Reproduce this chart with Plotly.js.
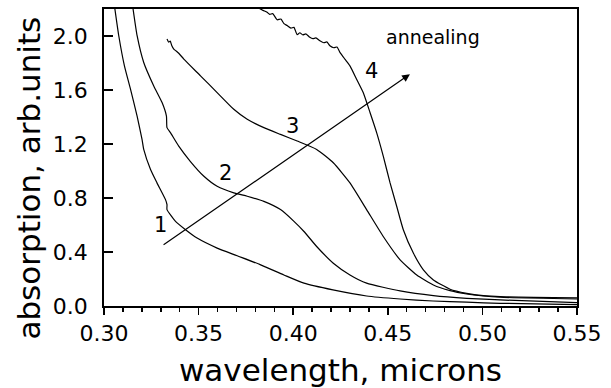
<!DOCTYPE html>
<html>
<head>
<meta charset="utf-8">
<script src="https://cdn.plot.ly/plotly-3.0.1.min.js"></script>
<style>html,body{margin:0;padding:0;background:#fff;}</style>
</head>
<body>
<div id="chart" style="width:611px;height:388px;"></div>
<script>
// Curve 1
const x1 = [0.3057,0.3078,0.3108,0.3140,0.3175,0.3201,0.3210,0.3246,0.3280,0.3325,0.3333,0.3333,0.3378,0.3431,0.3492,0.3598,0.3704,0.3828,0.3951,0.4057,0.4210,0.4388,0.4565,0.4739,0.4917,0.5094,0.55];
const y1 = [2.206,2.002,1.779,1.606,1.407,1.234,1.160,1.011,0.912,0.788,0.751,0.714,0.627,0.565,0.503,0.429,0.372,0.305,0.230,0.169,0.119,0.074,0.052,0.037,0.028,0.020,0.010];
// Curve 2
const x2 = [0.3153,0.3175,0.3210,0.3263,0.3307,0.3330,0.3333,0.3351,0.3395,0.3457,0.3528,0.3598,0.3686,0.3757,0.3845,0.3933,0.4004,0.4057,0.4124,0.4212,0.4300,0.4388,0.4565,0.4741,0.4917,0.5094,0.55];
const y2 = [2.206,2.002,1.804,1.630,1.507,1.407,1.321,1.284,1.184,1.070,0.961,0.887,0.838,0.813,0.775,0.714,0.627,0.552,0.441,0.317,0.230,0.169,0.112,0.077,0.057,0.045,0.025];
// Curve 3
const x3 = [0.3333,0.3342,0.3350,0.3358,0.3369,0.3380,0.3395,0.3422,0.3510,0.3598,0.3686,0.3757,0.3845,0.3933,0.4021,0.4124,0.4212,0.4300,0.4388,0.4476,0.4565,0.4653,0.4741,0.4829,0.4917,0.5005,0.5094,0.55];
const y3 = [1.978,1.955,1.962,1.930,1.903,1.890,1.872,1.829,1.705,1.581,1.457,1.383,1.321,1.271,1.222,1.160,1.061,0.912,0.714,0.515,0.342,0.230,0.156,0.114,0.089,0.074,0.065,0.052];
// Curve 4
const x4 = [0.3819,0.3840,0.3862,0.3876,0.3892,0.3915,0.3935,0.3951,0.3968,0.3988,0.4004,0.4021,0.4035,0.4051,0.4067,0.4088,0.4104,0.4120,0.4141,0.4162,0.4178,0.4194,0.4215,0.4231,0.4247,0.4273,0.4300,0.4335,0.4370,0.4406,0.4441,0.4476,0.4512,0.4547,0.4582,0.4635,0.4688,0.4741,0.4829,0.4917,0.5005,0.5094,0.55];
const y4 = [2.206,2.190,2.176,2.160,2.166,2.120,2.126,2.092,2.077,2.058,2.064,2.010,2.024,2.008,2.016,1.990,1.980,1.986,1.965,1.950,1.956,1.928,1.913,1.918,1.879,1.829,1.779,1.680,1.581,1.433,1.284,1.110,0.912,0.739,0.565,0.392,0.268,0.193,0.124,0.094,0.077,0.069,0.060];

const curveLabels = ['1','2','3','4'];
const labelX = [0.3296,0.3642,0.3995,0.4415];
const labelY = [0.602,0.987,1.333,1.742];
const arrowTail = [0.3307,0.446];
const arrowTip = [0.4617,1.717];
const noteText = 'annealing';
const noteXY = [0.4741,1.990];

const xTicks = [0.30,0.35,0.40,0.45,0.50,0.55];
const yTicks = [0.0,0.4,0.8,1.2,1.6,2.0];

const traces = [[x1,y1],[x2,y2],[x3,y3],[x4,y4]].map(([x,y]) => ({
  x:x, y:y, type:'scatter', mode:'lines',
  line:{color:'#000', width:1.2, shape:'spline', smoothing:0.5},
  hoverinfo:'skip', cliponaxis:true
}));

const font = {family:'DejaVu Sans, Verdana, sans-serif', color:'#000'};
const annotations = curveLabels.map((t,i)=>({
  x:labelX[i], y:labelY[i], xref:'x', yref:'y', text:t, showarrow:false,
  font:Object.assign({size:21}, font)
}));
annotations.push({
  x:arrowTip[0], y:arrowTip[1], ax:arrowTail[0], ay:arrowTail[1],
  xref:'x', yref:'y', axref:'x', ayref:'y', text:'', showarrow:true,
  arrowhead:2, arrowsize:1.3, arrowwidth:1.2, arrowcolor:'#000', standoff:0, startstandoff:0
});
annotations.push({
  x:noteXY[0], y:noteXY[1], xref:'x', yref:'y', text:noteText, showarrow:false,
  font:Object.assign({size:19}, font)
});
annotations.push({
  x:-0.158, y:0.43, xref:'paper', yref:'paper', text:'absorption, arb.units',
  textangle:-90, showarrow:false, xanchor:'center', yanchor:'middle',
  font:Object.assign({size:31}, font)
});

const layout = {
  width:611, height:388,
  margin:{l:104, r:34, t:9, b:82},
  paper_bgcolor:'#fff', plot_bgcolor:'#fff',
  showlegend:false,
  font:font,
  xaxis:{
    range:[0.30,0.55], tickvals:xTicks, ticktext:xTicks.map(v=>v.toFixed(2)),
    ticks:'outside', ticklen:7, tickwidth:1.6, tickcolor:'#000',
    minor:{dtick:0.01, tick0:0.30, ticks:'outside', ticklen:4, tickwidth:1.5, tickcolor:'#000', showgrid:false},
    showline:true, mirror:true, linewidth:1.8, linecolor:'#000',
    showgrid:false, zeroline:false,
    tickfont:Object.assign({size:22}, font),
    title:{text:'wavelength, microns', font:Object.assign({size:31}, font), standoff:14}
  },
  yaxis:{
    range:[0,2.2], tickvals:yTicks, ticktext:yTicks.map(v=>v.toFixed(1)),
    ticks:'inside', ticklen:9, tickwidth:1.6, tickcolor:'#000',
    showline:true, mirror:true, linewidth:1.8, linecolor:'#000',
    showgrid:false, zeroline:false, ticklabelstandoff:10,
    tickfont:Object.assign({size:22}, font)
  },
  annotations:annotations
};
Plotly.newPlot('chart', traces, layout, {staticPlot:true, displayModeBar:false});
</script>
</body>
</html>
